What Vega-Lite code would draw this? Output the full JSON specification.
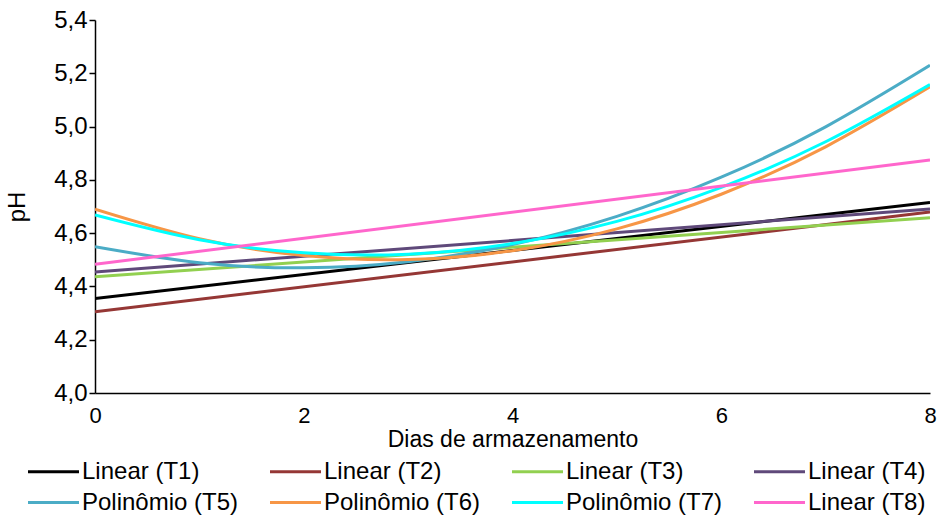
{
  "$schema": "https://vega.github.io/schema/vega-lite/v6.json",
  "width": 835,
  "height": 373,
  "autosize": "none",
  "padding": {"left": 95, "top": 20, "right": 10, "bottom": 122},
  "background": "white",
  "config": {
    "view": {"stroke": null},
    "font": "Liberation Sans",
    "axis": {"labelFont": "Liberation Sans", "titleFont": "Liberation Sans", "labelColor": "#000000", "titleColor": "#000000", "grid": false, "domainColor": "#000000", "domainWidth": 1.5, "tickColor": "#000000", "titleFontWeight": "normal"},
    "legend": {"labelFont": "Liberation Sans", "labelColor": "#000000"}
  },
  "data": {"values": [
    {"dia": 0, "serie": "Linear (T1)", "ph": 4.355},
    {"dia": 8, "serie": "Linear (T1)", "ph": 4.715},
    {"dia": 0, "serie": "Linear (T2)", "ph": 4.305},
    {"dia": 8, "serie": "Linear (T2)", "ph": 4.679},
    {"dia": 0, "serie": "Linear (T3)", "ph": 4.436},
    {"dia": 8, "serie": "Linear (T3)", "ph": 4.658},
    {"dia": 0, "serie": "Linear (T4)", "ph": 4.454},
    {"dia": 8, "serie": "Linear (T4)", "ph": 4.691},
    {"dia": 0, "serie": "Polinômio (T5)", "ph": 4.549},
    {"dia": 1, "serie": "Polinômio (T5)", "ph": 4.489},
    {"dia": 2, "serie": "Polinômio (T5)", "ph": 4.470},
    {"dia": 3, "serie": "Polinômio (T5)", "ph": 4.493},
    {"dia": 4, "serie": "Polinômio (T5)", "ph": 4.557},
    {"dia": 5, "serie": "Polinômio (T5)", "ph": 4.663},
    {"dia": 6, "serie": "Polinômio (T5)", "ph": 4.810},
    {"dia": 7, "serie": "Polinômio (T5)", "ph": 4.999},
    {"dia": 8, "serie": "Polinômio (T5)", "ph": 5.230},
    {"dia": 0, "serie": "Polinômio (T6)", "ph": 4.690},
    {"dia": 1, "serie": "Polinômio (T6)", "ph": 4.579},
    {"dia": 2, "serie": "Polinômio (T6)", "ph": 4.516},
    {"dia": 3, "serie": "Polinômio (T6)", "ph": 4.501},
    {"dia": 4, "serie": "Polinômio (T6)", "ph": 4.534},
    {"dia": 5, "serie": "Polinômio (T6)", "ph": 4.616},
    {"dia": 6, "serie": "Polinômio (T6)", "ph": 4.746},
    {"dia": 7, "serie": "Polinômio (T6)", "ph": 4.924},
    {"dia": 8, "serie": "Polinômio (T6)", "ph": 5.149},
    {"dia": 0, "serie": "Polinômio (T7)", "ph": 4.668},
    {"dia": 1, "serie": "Polinômio (T7)", "ph": 4.575},
    {"dia": 2, "serie": "Polinômio (T7)", "ph": 4.526},
    {"dia": 3, "serie": "Polinômio (T7)", "ph": 4.521},
    {"dia": 4, "serie": "Polinômio (T7)", "ph": 4.561},
    {"dia": 5, "serie": "Polinômio (T7)", "ph": 4.644},
    {"dia": 6, "serie": "Polinômio (T7)", "ph": 4.772},
    {"dia": 7, "serie": "Polinômio (T7)", "ph": 4.943},
    {"dia": 8, "serie": "Polinômio (T7)", "ph": 5.158},
    {"dia": 0, "serie": "Linear (T8)", "ph": 4.483},
    {"dia": 8, "serie": "Linear (T8)", "ph": 4.875}
  ]},
  "mark": {"type": "line", "strokeWidth": 3, "interpolate": "natural", "clip": true},
  "encoding": {
    "x": {
      "field": "dia", "type": "quantitative",
      "scale": {"domain": [0, 8], "nice": false},
      "axis": {"title": "Dias de armazenamento", "values": [0, 2, 4, 6, 8], "ticks": false, "labelPadding": 12, "labelFontSize": 22, "titleFontSize": 23, "titlePadding": 2, "labelFlush": false}
    },
    "y": {
      "field": "ph", "type": "quantitative",
      "scale": {"domain": [4.0, 5.4], "nice": false, "zero": false},
      "axis": {"title": "pH", "values": [4.0, 4.2, 4.4, 4.6, 4.8, 5.0, 5.2, 5.4], "tickSize": 6, "tickWidth": 1.5, "labelPadding": 2, "labelFontSize": 24, "titleFontSize": 24, "titlePadding": 24, "labelExpr": "replace(format(datum.value, '.1f'), '.', ',')"}
    },
    "color": {
      "field": "serie", "type": "nominal",
      "scale": {
        "domain": ["Linear (T1)", "Linear (T2)", "Linear (T3)", "Linear (T4)", "Polinômio (T5)", "Polinômio (T6)", "Polinômio (T7)", "Linear (T8)"],
        "range": ["#000000", "#953735", "#92D050", "#5F497A", "#4BACC6", "#F79646", "#00FFFF", "#FF66CC"]
      },
      "legend": {
        "title": null,
        "orient": "none",
        "legendX": -56,
        "legendY": 437,
        "direction": "horizontal",
        "columns": 4,
        "gridAlign": "all",
        "columnPadding": 25,
        "rowPadding": 4,
        "symbolType": "M-2,0L2,0",
        "symbolSize": 650,
        "symbolStrokeWidth": 3,
        "labelFontSize": 24,
        "labelOffset": 14,
        "labelLimit": 300
      }
    }
  }
}
